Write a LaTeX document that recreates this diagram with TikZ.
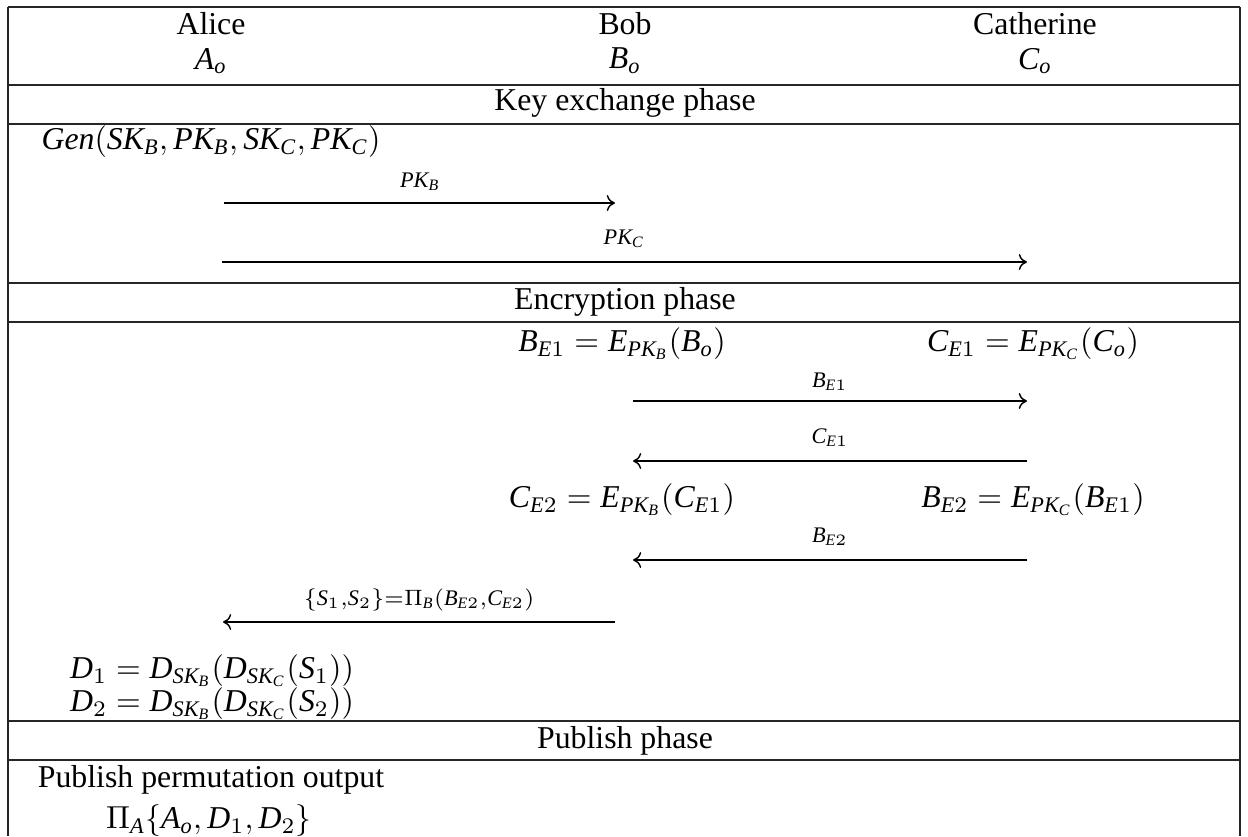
\documentclass[tikz,border=0pt]{standalone}
\usepackage{fontspec}
\setmainfont{Liberation Serif}
\usetikzlibrary{arrows.meta}
\newcommand\mi[1]{\mathit{#1}}
\begin{document}
\begin{tikzpicture}[x=0.3145pt,y=-0.3145pt,
  rule/.style={line width=0.5pt, draw=black!85},
  msg/.style={line width=0.45pt, -{To[length=2.6pt,width=5pt]}},
  txt/.style={inner sep=0pt, anchor=center},
  lbl/.style={inner sep=0pt, anchor=center}]
\useasboundingbox (0,0) rectangle (1248,836);
% table rules
\draw[rule] (8,7) -- (1240,7);
\draw[rule] (8,85) -- (1240,85);
\draw[rule] (8,124) -- (1240,124);
\draw[rule] (8,283) -- (1240,283);
\draw[rule] (8,322) -- (1240,322);
\draw[rule] (8,721) -- (1240,721);
\draw[rule] (8,760) -- (1240,760);
\draw[rule] (8,7) -- (8,836);
\draw[rule] (1240,7) -- (1240,836);
% header
\node[txt] (alice) at (211,24) {Alice};
\node[txt] (ao) at (211,61) {$\mi{A}_{\mi{o}}$};
\node[txt] (bob) at (625,24) {Bob};
\node[txt] (bo) at (625,61) {$\mi{B}_{\mi{o}}$};
\node[txt] (cath) at (1035,24) {Catherine};
\node[txt] (co) at (1035,61) {$\mi{C}_{\mi{o}}$};
% key exchange
\node[txt] (kex) at (625,103) {Key exchange phase};
\node[txt] (gen) at (211,142) {$\mi{Gen}(\mi{SK}_{\mi{B}},\mi{PK}_{\mi{B}},\mi{SK}_{\mi{C}},\mi{PK}_{\mi{C}})$};
\node[lbl] (lpkb) at (420,182) {$\scriptstyle \mi{PK}_{\mi{B}}$};
\coordinate (a1s) at (224,203);
\coordinate (a1e) at (615,203);
\draw[msg] (a1s) -- (a1e);
\node[lbl] (lpkc) at (624,239) {$\scriptstyle \mi{PK}_{\mi{C}}$};
\coordinate (a2s) at (222,262);
\coordinate (a2e) at (1027,262);
\draw[msg] (a2s) -- (a2e);
% encryption
\node[txt] (enc) at (625,302) {Encryption phase};
\node[txt] (be1) at (622,344) {$\mi{B}_{\mi{E}1}=\mi{E}_{\mi{PK}_{\mi{B}}}(\mi{B}_{\mi{o}})$};
\node[txt] (ce1) at (1033,344) {$\mi{C}_{\mi{E}1}=\mi{E}_{\mi{PK}_{\mi{C}}}(\mi{C}_{\mi{o}})$};
\node[lbl] (lbe1) at (830,382) {$\scriptstyle \mi{B}_{\mi{E}1}$};
\coordinate (a3s) at (633,401);
\coordinate (a3e) at (1027,401);
\draw[msg] (a3s) -- (a3e);
\node[lbl] (lce1) at (830,438) {$\scriptstyle \mi{C}_{\mi{E}1}$};
\coordinate (a4s) at (1027,461);
\coordinate (a4e) at (633,461);
\draw[msg] (a4s) -- (a4e);
\node[txt] (ce2) at (622,500) {$\mi{C}_{\mi{E}2}=\mi{E}_{\mi{PK}_{\mi{B}}}(\mi{C}_{\mi{E}1})$};
\node[txt] (be2) at (1033,500) {$\mi{B}_{\mi{E}2}=\mi{E}_{\mi{PK}_{\mi{C}}}(\mi{B}_{\mi{E}1})$};
\node[lbl] (lbe2) at (830,537) {$\scriptstyle \mi{B}_{\mi{E}2}$};
\coordinate (a5s) at (1027,560);
\coordinate (a5e) at (633,560);
\draw[msg] (a5s) -- (a5e);
\node[lbl] (ls) at (419,600) {$\scriptstyle \{\mi{S}_1,\mi{S}_2\}=\Pi_{\mi{B}}(\mi{B}_{\mi{E}2},\mi{C}_{\mi{E}2})$};
\coordinate (a6s) at (615,622);
\coordinate (a6e) at (223,622);
\draw[msg] (a6s) -- (a6e);
\node[txt] (d1) at (212,671) {$\mi{D}_1=\mi{D}_{\mi{SK}_{\mi{B}}}(\mi{D}_{\mi{SK}_{\mi{C}}}(\mi{S}_1))$};
\node[txt] (d2) at (212,704) {$\mi{D}_2=\mi{D}_{\mi{SK}_{\mi{B}}}(\mi{D}_{\mi{SK}_{\mi{C}}}(\mi{S}_2))$};
% publish
\node[txt] (pub) at (625,741) {Publish phase};
\node[txt] (ppo) at (211,780) {Publish permutation output};
\node[txt] (pia) at (209,821) {$\Pi_{\mi{A}}\{\mi{A}_{\mi{o}},\mi{D}_1,\mi{D}_2\}$};
\end{tikzpicture}
\end{document}
